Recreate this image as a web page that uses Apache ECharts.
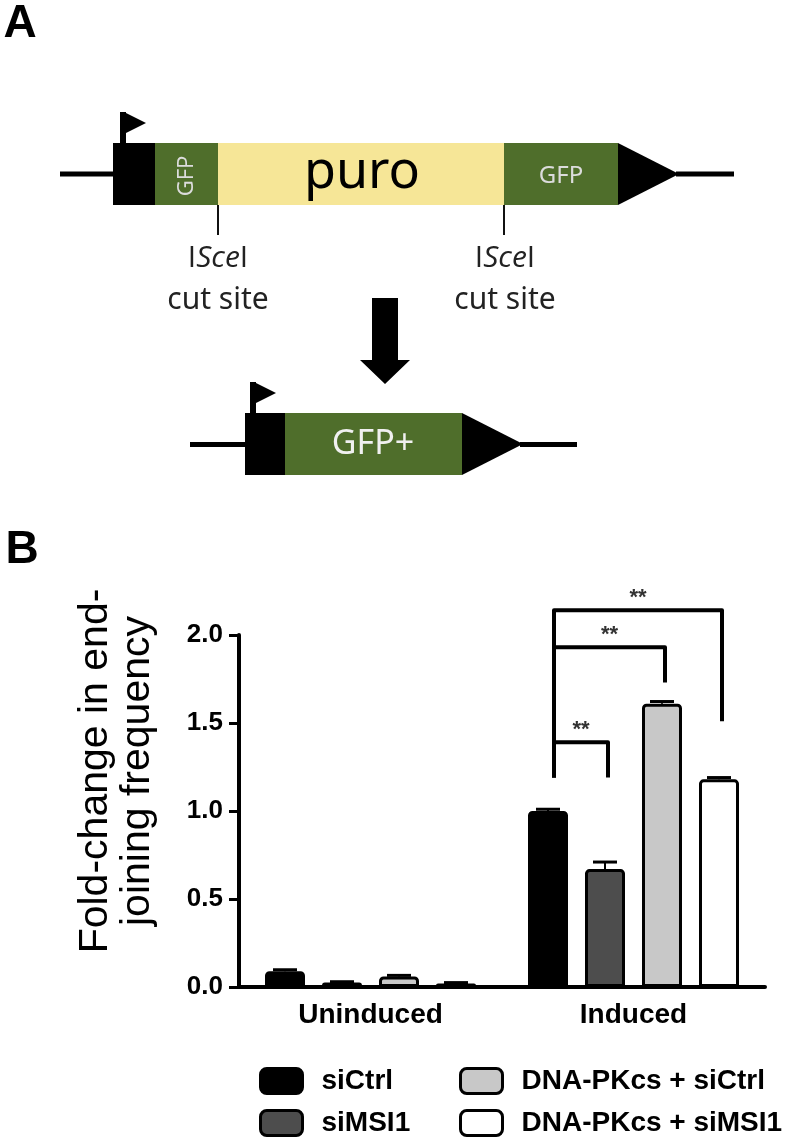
<!DOCTYPE html>
<html>
<head>
<meta charset="utf-8">
<script src="https://cdn.jsdelivr.net/npm/echarts@6/dist/echarts.min.js"></script>
<style>
html,body{margin:0;padding:0;background:#fff;}
#chart{width:788px;height:1139px;}
</style>
</head>
<body>
<div id="chart"></div>
<script>
// ---- data ----
const categories = ['Uninduced', 'Induced'];
const seriesNames = ['siCtrl', 'siMSI1', 'DNA-PKcs + siCtrl', 'DNA-PKcs + siMSI1'];
const siCtrl = [0.09, 1.00];
const siMSI1 = [0.025, 0.67];
const pkSiCtrl = [0.06, 1.61];
const pkSiMSI1 = [0.02, 1.18];
const errSiCtrl = [0.008, 0.01];
const errSiMSI1 = [0.005, 0.04];
const errPkSiCtrl = [0.006, 0.012];
const errPkSiMSI1 = [0.005, 0.01];
const yTickLabels = ['0.0', '0.5', '1.0', '1.5', '2.0'];
// significance brackets (Induced group): from bar, to bar, bracket height, left end, right end
const bracketFrom = [0, 0, 0];
const bracketTo = [1, 2, 3];
const bracketTop = [1.39, 1.93, 2.14];
const bracketLeftEnd = [1.19, 1.19, 1.19];
const bracketRightEnd = [1.19, 1.73, 1.51];
const bracketLabels = ['**', '**', '**'];

// ---- style ----
const FONT = "'Liberation Sans', Arial, Helvetica, sans-serif";
const DFAM = "'Noto Sans', 'Open Sans', sans-serif";
const RFAM = "Open Sans";
const fills = ['#000000', '#4d4d4d', '#c8c8c8', '#ffffff'];
const BAR_W = 40;
const GAP_RATIO = 0.425;
const STEP = BAR_W * (1 + GAP_RATIO);
const GREEN = '#4f6e2b';
const YELLOW = '#f6e697';

const values = [siCtrl, siMSI1, pkSiCtrl, pkSiMSI1];
const errs = [errSiCtrl, errSiMSI1, errPkSiCtrl, errPkSiMSI1];

const barSeries = seriesNames.map((name, i) => ({
  name: name,
  type: 'bar',
  data: values[i],
  barWidth: BAR_W,
  barGap: (GAP_RATIO * 100) + '%',
  itemStyle: { color: fills[i], borderColor: '#000', borderWidth: 3, borderRadius: [3, 3, 0, 0] },
  emphasis: { disabled: true },
  z: 2
}));

const errData = [];
for (let s = 0; s < values.length; s++) {
  for (let c = 0; c < categories.length; c++) {
    errData.push([c, s, values[s][c], errs[s][c]]);
  }
}

const errSeries = {
  type: 'custom',
  name: 'err',
  coordinateSystem: 'cartesian2d',
  clip: false,
  z: 5,
  encode: { x: 0, y: 2 },
  data: errData,
  renderItem: function (params, api) {
    const c = api.value(0), s = api.value(1), v = api.value(2), e = api.value(3);
    const band = api.coord([c, 0])[0];
    const x = band + (s - 1.5) * STEP;
    const y0 = api.coord([c, v])[1];
    const y1 = api.coord([c, v + e])[1];
    return {
      type: 'group',
      children: [
        { type: 'line', shape: { x1: x, y1: y0, x2: x, y2: y1 }, style: { stroke: '#000', lineWidth: 2 } },
        { type: 'line', shape: { x1: x - 12, y1: y1, x2: x + 12, y2: y1 }, style: { stroke: '#000', lineWidth: 3 } }
      ]
    };
  }
};

const bracketData = bracketFrom.map((f, i) => [1, f, bracketTo[i], bracketTop[i], bracketLeftEnd[i], bracketRightEnd[i]]);

const bracketSeries = {
  type: 'custom',
  name: 'sig',
  coordinateSystem: 'cartesian2d',
  clip: false,
  z: 6,
  encode: { x: 0, y: 3 },
  data: bracketData,
  renderItem: function (params, api) {
    const c = api.value(0);
    const band = api.coord([c, 0])[0];
    const xl = band + (api.value(1) - 1.5) * STEP + 6;
    const xr = band + (api.value(2) - 1.5) * STEP + 3;
    const yT = api.coord([c, api.value(3)])[1];
    const yL = api.coord([c, api.value(4)])[1];
    const yR = api.coord([c, api.value(5)])[1];
    return {
      type: 'group',
      children: [
        { type: 'polyline', shape: { points: [[xl, yL], [xl, yT], [xr, yT], [xr, yR]] },
          style: { stroke: '#000', lineWidth: 4, fill: null, lineJoin: 'round' } },
        { type: 'text', style: { text: bracketLabels[params.dataIndex], x: (xl + xr) / 2, y: yT - 12,
          textAlign: 'center', align: 'center', textVerticalAlign: 'middle', verticalAlign: 'middle',
          font: 'bold 22px ' + FONT, fill: '#333' } }
      ]
    };
  }
};

// ---- panel A diagram ----
function rect(x, y, w, h, fill) {
  return { type: 'rect', shape: { x: x, y: y, width: w, height: h }, style: { fill: fill }, silent: true };
}
function poly(points, fill) {
  return { type: 'polygon', shape: { points: points }, style: { fill: fill }, silent: true };
}
function txt(text, x, y, size, fill, opts) {
  opts = opts || {};
  const o = { type: 'text', x: x, y: y, rotation: opts.rotation || 0, silent: true,
    style: { text: text, x: 0, y: 0, fontSize: size, fontFamily: opts.family || DFAM,
      fontWeight: opts.weight || 'normal', fill: fill, textAlign: 'center', align: 'center',
      textVerticalAlign: 'middle', verticalAlign: 'middle' } };
  if (opts.rich) o.style.rich = opts.rich;
  return o;
}
const sceRich = {
  n: { fontSize: 30, fontFamily: RFAM, fontStyle: 'normal', fill: '#222' },
  i: { fontSize: 30, fontFamily: RFAM, fontStyle: 'italic', fill: '#222' }
};
const graphics = [
  txt('A', 20, 24, 46, '#000', { family: FONT, weight: 'bold' }),
  txt('B', 22, 550, 46, '#000', { family: FONT, weight: 'bold' }),
  // top construct
  rect(60, 171.5, 56, 5, '#000'),
  rect(676, 171.5, 58, 5, '#000'),
  rect(113, 143, 42, 62, '#000'),
  rect(120, 112, 6, 32, '#000'),
  poly([[124, 112], [146, 123], [124, 134]], '#000'),
  rect(155, 143, 63, 62, GREEN),
  rect(218, 143, 286, 62, YELLOW),
  rect(504, 143, 114, 62, GREEN),
  poly([[618, 143], [679, 174], [618, 205]], '#000'),
  { type: 'line', shape: { x1: 218, y1: 205, x2: 218, y2: 235 }, style: { stroke: '#111', lineWidth: 2 }, silent: true },
  { type: 'line', shape: { x1: 504, y1: 205, x2: 504, y2: 235 }, style: { stroke: '#111', lineWidth: 2 }, silent: true },
  txt('puro', 362, 173, 52, '#000'),
  txt('GFP', 561, 176, 24, '#dcdcdc'),
  txt('GFP', 187, 176, 22, '#dcdcdc', { rotation: Math.PI / 2 }),
  txt('{n|I}{i|Sce}{n|I}', 218, 258, 30, '#222', { rich: sceRich, family: RFAM }),
  txt('cut site', 218, 300, 30, '#222'),
  txt('{n|I}{i|Sce}{n|I}', 505, 258, 30, '#222', { rich: sceRich, family: RFAM }),
  txt('cut site', 505, 300, 30, '#222'),
  // arrow
  poly([[372, 298], [398, 298], [398, 360], [410, 360], [385, 384], [360, 360], [372, 360]], '#000'),
  // bottom construct
  rect(190, 442, 58, 5, '#000'),
  rect(520, 442, 57, 5, '#000'),
  rect(245, 413, 40, 62, '#000'),
  rect(250, 382, 6, 32, '#000'),
  poly([[254, 382], [276, 393], [254, 404]], '#000'),
  rect(285, 413, 177, 62, GREEN),
  poly([[462, 413], [523, 444], [462, 475]], '#000'),
  txt('GFP+', 373, 444, 34, '#f0f0f0')
];

const legendCommon = {
  orient: 'vertical',
  top: 1066,
  padding: 0,
  itemWidth: 42,
  itemHeight: 25,
  itemGap: 12,
  icon: 'roundRect',
  selectedMode: false,
  itemStyle: { borderWidth: 3, borderColor: '#000' },
  textStyle: { fontSize: 28, fontWeight: 'bold', fontFamily: FONT, color: '#000', lineHeight: 30, padding: [0, 0, 0, 14] }
};

const option = {
  animation: false,
  backgroundColor: '#fff',
  grid: { left: 239, right: 23, top: 635, bottom: 152, containLabel: false },
  xAxis: {
    type: 'category',
    data: categories,
    axisLine: { lineStyle: { color: '#000', width: 4 } },
    axisTick: { alignWithLabel: true, length: 10, lineStyle: { color: '#000', width: 3 } },
    axisLabel: { color: '#000', fontSize: 28, fontWeight: 'bold', fontFamily: FONT, margin: 14 }
  },
  yAxis: {
    type: 'value',
    min: 0, max: 2, interval: 0.5,
    name: 'Fold-change in end-\njoining frequency',
    nameLocation: 'middle',
    nameRotate: 90,
    nameGap: 80,
    nameTextStyle: { color: '#000', fontSize: 41, fontFamily: FONT, lineHeight: 42, padding: [0, 0, 0, 80] },
    splitLine: { show: false },
    axisLine: { show: true, lineStyle: { color: '#000', width: 4 } },
    axisTick: { show: true, length: 10, lineStyle: { color: '#000', width: 3 } },
    axisLabel: { color: '#000', fontSize: 26, fontWeight: 'bold', fontFamily: FONT, margin: 16,
      formatter: function (v) { return yTickLabels[Math.round(v / 0.5)]; } }
  },
  legend: [
    Object.assign({ left: 259, data: seriesNames.slice(0, 2) }, legendCommon),
    Object.assign({ left: 459, data: seriesNames.slice(2, 4) }, legendCommon)
  ],
  graphic: { elements: graphics },
  series: barSeries.concat([errSeries, bracketSeries])
};

const chart = echarts.init(document.getElementById('chart'), null, { renderer: 'canvas' });
chart.setOption(option);
</script>
</body>
</html>
